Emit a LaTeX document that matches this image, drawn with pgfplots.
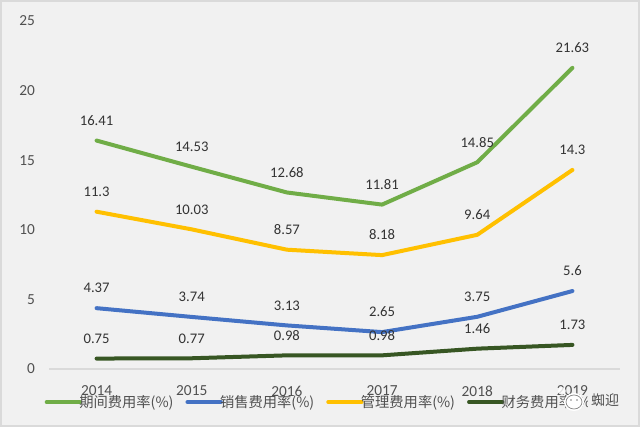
\documentclass[border=0pt]{standalone}
\usepackage{fontspec}
\setmainfont{Carlito}
\newfontfamily\cjk{Noto Sans CJK SC}
\usepackage{pgfplots}
\pgfplotsset{compat=1.18}
\definecolor{bgc}{HTML}{F1F1F1}
\definecolor{framec}{HTML}{DADADA}
\definecolor{txt}{HTML}{505050}
\definecolor{c1}{HTML}{70AD47}
\definecolor{c2}{HTML}{4472C4}
\definecolor{c3}{HTML}{FFC000}
\definecolor{c4}{HTML}{375623}
\begin{document}
\begin{tikzpicture}[x=0.75pt,y=0.75pt]
\fill[framec] (0,0) rectangle (640,427);
\fill[bgc] (2,2) rectangle (638,425);
\begin{axis}[
  at={(36.75pt,43.5pt)},anchor=south west,
  scale only axis,width=428.25pt,height=261pt,
  xmin=-0.5,xmax=5.5,ymin=0,ymax=25,
  xtick={0,1,2,3,4,5},
  xticklabels={2014,2015,2016,2017,2018,2019},
  ytick={0,5,10,15,20,25},
  axis x line=bottom,axis y line=left,
  axis line style={framec,line width=1.2pt,-},
  y axis line style={draw=none},
  major tick length=0pt,
  tick label style={font=\fontsize{11.5}{13}\selectfont,text=txt},
  /pgf/number format/assume math mode=true,
  xticklabel style={yshift=-9pt},
  yticklabel style={xshift=-7pt},
  clip=false,
  nodes near coords,
  nodes near coords style={font=\fontsize{11}{13}\selectfont,text=black!80,anchor=south,yshift=6.5pt,
    /pgf/number format/assume math mode=true},
  every axis plot/.append style={line width=3pt,no markers,line join=round,line cap=round},
  legend columns=4,
  legend image code/.code={\draw[#1] (0,0) -- (25pt,0);},
  legend style={at={(-0.008,-0.095)},anchor=west,draw=none,fill=none,
    font=\cjk\fontsize{10.7}{12}\selectfont,text=txt,inner sep=0pt,
    /tikz/every even column/.style={column sep=7pt},
    /tikz/every odd column/.style={column sep=-4pt}},
  legend cell align=left,
]
\addplot[c1] coordinates {(0,16.41)(1,14.53)(2,12.68)(3,11.81)(4,14.85)(5,21.63)};
\addlegendentry{期间费用率(\%)}
\addplot[c2] coordinates {(0,4.37)(1,3.74)(2,3.13)(3,2.65)(4,3.75)(5,5.6)};
\addlegendentry{销售费用率(\%)}
\addplot[c3] coordinates {(0,11.3)(1,10.03)(2,8.57)(3,8.18)(4,9.64)(5,14.3)};
\addlegendentry{管理费用率(\%)}
\addplot[c4] coordinates {(0,0.75)(1,0.77)(2,0.98)(3,0.98)(4,1.46)(5,1.73)};
\addlegendentry{财务费用率(\%)}
\end{axis}
% watermark over the corner
\fill[bgc] (588,17) rectangle (622,36);
\fill[white] (574,25) ellipse (10 and 9);
\fill[white,opacity=0.8] (562,36) circle (4);
\draw[gray,line width=0.5pt] (574,25) ellipse (8 and 7);
\fill[gray] (571,27) circle (0.9) (577,27) circle (0.9);
\node[font=\cjk\fontsize{10.5}{12}\selectfont,text=txt,inner sep=0pt] at (605,27) {蜘迎};
\end{tikzpicture}
\end{document}
